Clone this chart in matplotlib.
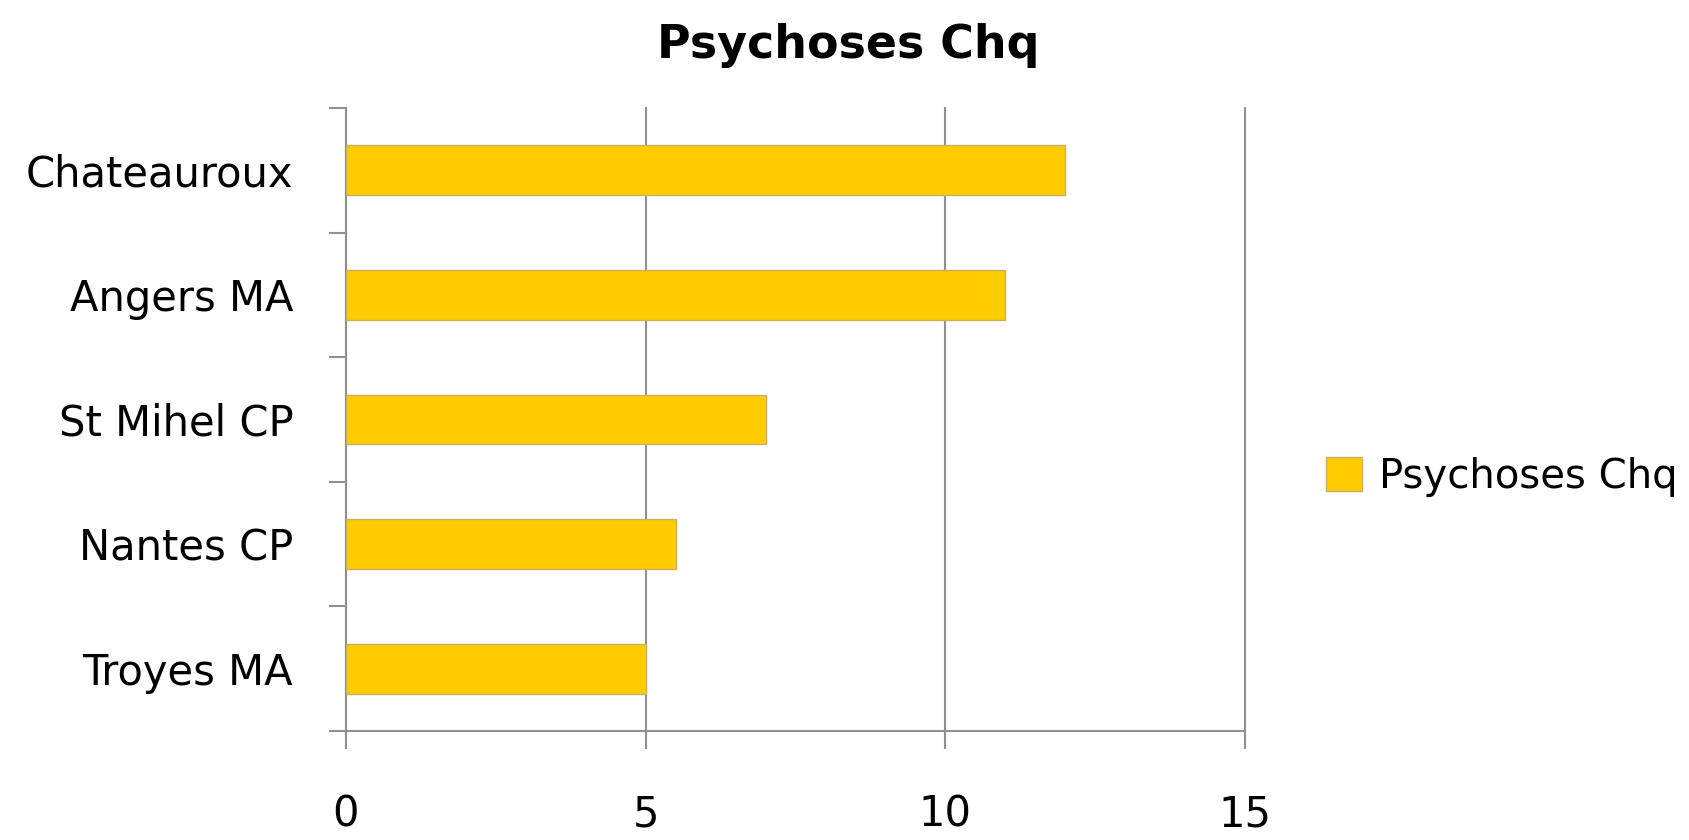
import matplotlib
matplotlib.use("Agg")
import matplotlib.pyplot as plt
import numpy as np

categories = ["Chateauroux", "Angers MA", "St Mihel CP", "Nantes CP", "Troyes MA"]
values = [12, 11, 7, 5.5, 5]
series_name = "Psychoses Chq"
xticks = [0, 5, 10, 15]

BAR_COLOR = "#FFCC00"
GRID_COLOR = "#909090"

plt.rcParams["font.family"] = ["DejaVu Sans"]

fig = plt.figure(figsize=(16.9, 8.4), dpi=100)
ax = fig.add_axes([346 / 1690, 1 - 731 / 840, (1245 - 346) / 1690, (731 - 108) / 840])

n = len(categories)
y = np.arange(n)[::-1]
ax.barh(y, values, height=0.4, color=BAR_COLOR, edgecolor="#c8b060", linewidth=1,
        label=series_name, zorder=3)

ax.set_xlim(0, 15)
ax.set_ylim(-0.5, n - 0.5)
ax.set_xticks(xticks)
ax.set_xticklabels([str(t) for t in xticks], fontsize=30)
ax.tick_params(axis="x", length=13, width=1.5, color=GRID_COLOR, pad=32)
ax.xaxis.grid(True, color=GRID_COLOR, linewidth=1.5, zorder=0)
for gl in ax.get_xgridlines():
    gl.set_clip_on(False)

# category labels at centres, tick marks at boundaries
ax.set_yticks(y)
ax.set_yticklabels(categories, fontsize=30)
ax.tick_params(axis="y", which="major", length=0, pad=38)
ax.set_yticks(np.arange(n + 1) - 0.5, minor=True)
ax.tick_params(axis="y", which="minor", length=12, width=1.5, color=GRID_COLOR)

for s in ["top", "right"]:
    ax.spines[s].set_visible(False)
for s in ["left", "bottom"]:
    ax.spines[s].set_color(GRID_COLOR)
    ax.spines[s].set_linewidth(1.5)

fig.text(848 / 1690, 1 - 45 / 840, series_name, ha="center", va="center",
         fontsize=33, fontweight="bold")

fig.legend(loc="center left", bbox_to_anchor=(1290 / 1690, 1 - 477 / 840), frameon=False,
           fontsize=29, handlelength=0.9, handleheight=0.9, handletextpad=0.4)

fig.savefig("out.png", dpi=100)
